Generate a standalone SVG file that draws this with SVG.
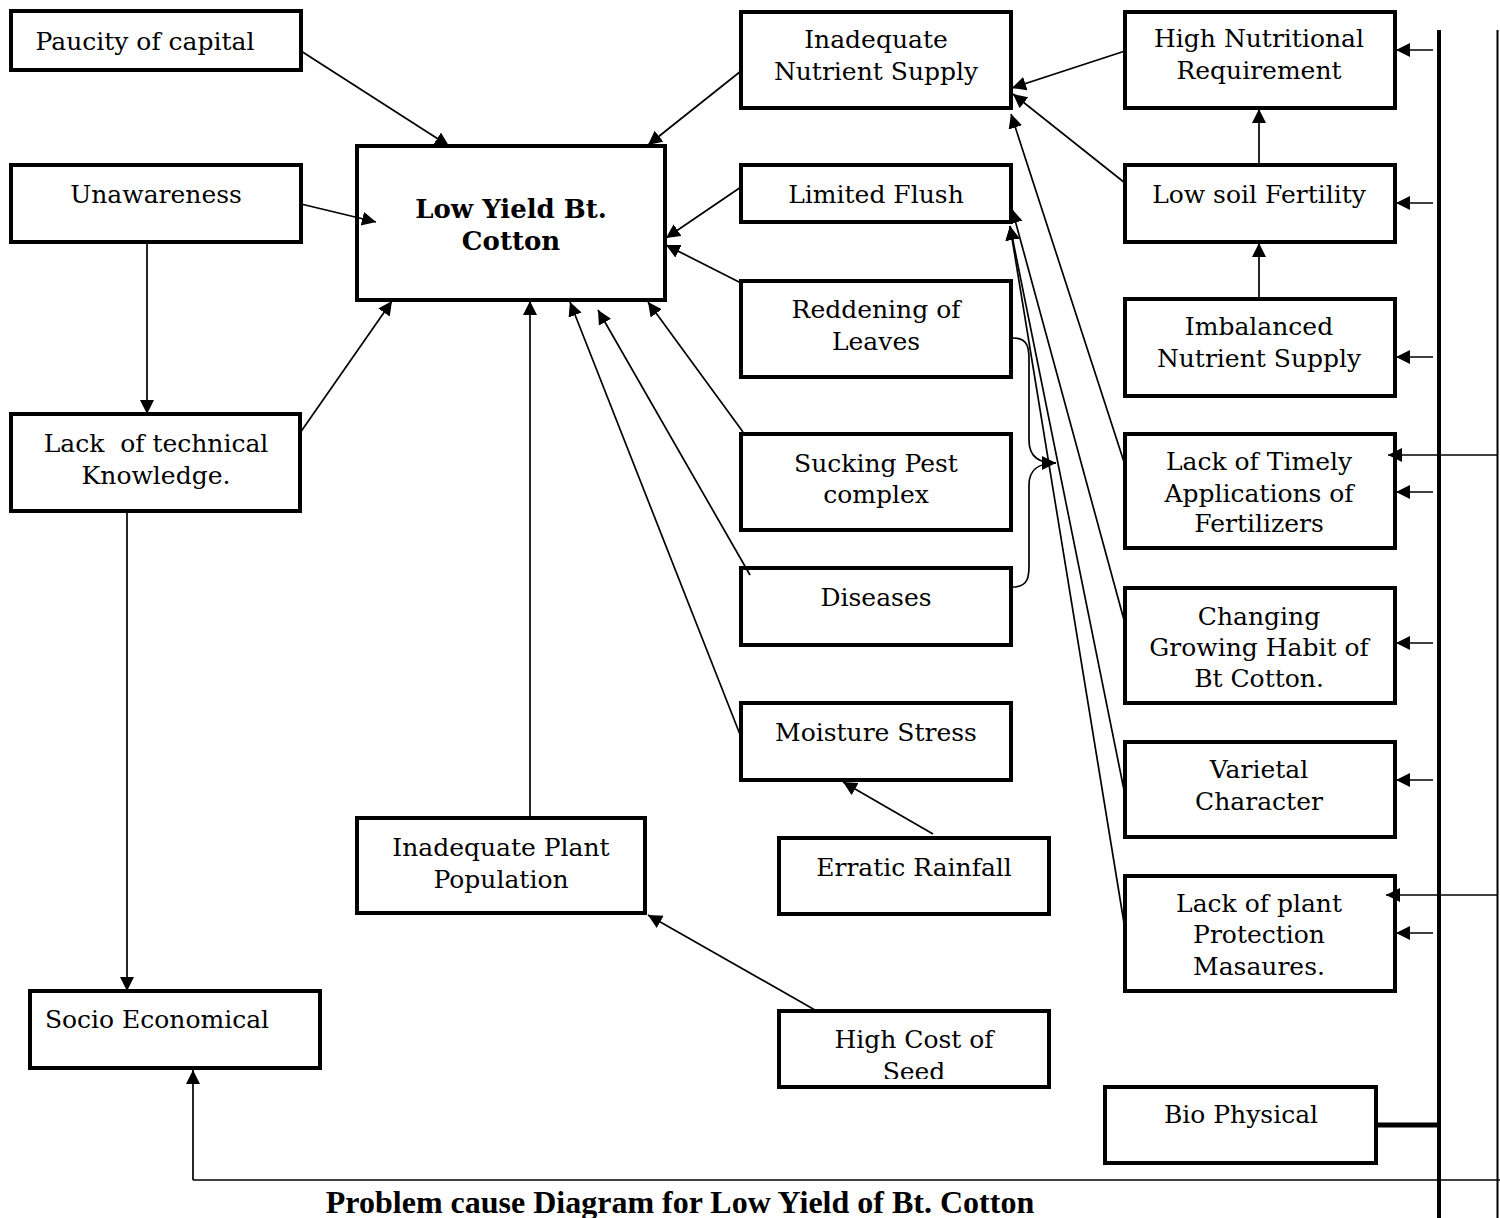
<svg xmlns="http://www.w3.org/2000/svg" width="1500" height="1218" viewBox="0 0 1500 1218">
<defs>
<style>
.box{fill:#fff;stroke:#000;stroke-width:4}
.t{font-family:"DejaVu Serif","Liberation Serif",serif;font-size:25px;fill:#000;text-anchor:middle;white-space:pre}
.tb{font-family:"DejaVu Serif","Liberation Serif",serif;font-size:26px;font-weight:bold;fill:#000;text-anchor:middle}
.title{font-family:"Liberation Serif","Times New Roman",serif;font-size:32px;font-weight:bold;fill:#000;text-anchor:middle}
.c{fill:none;stroke:#000;stroke-width:1.7}
.ca{fill:none;stroke:#000;stroke-width:1.7;marker-end:url(#ah)}
</style>
<marker id="ah" markerUnits="userSpaceOnUse" markerWidth="16" markerHeight="16" refX="14" refY="7" orient="auto">
<path d="M0,0 L14,7 L0,14 z" fill="#000"/>
</marker>
<clipPath id="clipSeed"><rect x="779" y="1011" width="270" height="68"/></clipPath>
</defs>
<rect width="1500" height="1218" fill="#fff"/>

<g id="n-paucity"><rect class="box" x="11" y="11" width="290" height="59"/><text class="t" x="145" y="50">Paucity of capital</text></g>
<g id="n-unawareness"><rect class="box" x="11" y="165" width="290" height="77"/><text class="t" x="156" y="203">Unawareness</text></g>
<g id="n-main"><rect class="box" x="357" y="146" width="308" height="154"/><text class="tb" x="511" y="218">Low Yield Bt.</text><text class="tb" x="511" y="250">Cotton</text></g>
<g id="n-lacktech"><rect class="box" x="11" y="414" width="289" height="97"/><text class="t" x="156" y="452">Lack  of technical</text><text class="t" x="156" y="484">Knowledge.</text></g>
<g id="n-socio"><rect class="box" x="30" y="991" width="290" height="77"/><text class="t" x="157" y="1028">Socio Economical</text></g>
<g id="n-plantpop"><rect class="box" x="357" y="818" width="288" height="95"/><text class="t" x="501" y="856">Inadequate Plant</text><text class="t" x="501" y="888">Population</text></g>
<g id="n-inadnut"><rect class="box" x="741" y="12" width="270" height="96"/><text class="t" x="876" y="48">Inadequate</text><text class="t" x="876" y="80">Nutrient Supply</text></g>
<g id="n-flush"><rect class="box" x="741" y="165" width="270" height="57"/><text class="t" x="876" y="203">Limited Flush</text></g>
<g id="n-redden"><rect class="box" x="741" y="281" width="270" height="96"/><text class="t" x="876" y="318">Reddening of</text><text class="t" x="876" y="350">Leaves</text></g>
<g id="n-sucking"><rect class="box" x="741" y="434" width="270" height="96"/><text class="t" x="876" y="472">Sucking Pest</text><text class="t" x="876" y="503">complex</text></g>
<g id="n-diseases"><rect class="box" x="741" y="568" width="270" height="77"/><text class="t" x="876" y="606">Diseases</text></g>
<g id="n-moisture"><rect class="box" x="741" y="703" width="270" height="77"/><text class="t" x="876" y="741">Moisture Stress</text></g>
<g id="n-erratic"><rect class="box" x="779" y="838" width="270" height="76"/><text class="t" x="914" y="876">Erratic Rainfall</text></g>
<g id="n-seed"><rect class="box" x="779" y="1011" width="270" height="76"/><text class="t" x="914" y="1048">High Cost of</text><text class="t" x="914" y="1080" clip-path="url(#clipSeed)">Seed</text></g>
<g id="n-highnut"><rect class="box" x="1125" y="12" width="270" height="96"/><text class="t" x="1259" y="47">High Nutritional</text><text class="t" x="1259" y="79">Requirement</text></g>
<g id="n-lowsoil"><rect class="box" x="1125" y="165" width="270" height="77"/><text class="t" x="1259" y="203">Low soil Fertility</text></g>
<g id="n-imbal"><rect class="box" x="1125" y="299" width="270" height="97"/><text class="t" x="1259" y="335">Imbalanced</text><text class="t" x="1259" y="367">Nutrient Supply</text></g>
<g id="n-timely"><rect class="box" x="1125" y="434" width="270" height="114"/><text class="t" x="1259" y="470">Lack of Timely</text><text class="t" x="1259" y="502">Applications of</text><text class="t" x="1259" y="532">Fertilizers</text></g>
<g id="n-changing"><rect class="box" x="1125" y="588" width="270" height="115"/><text class="t" x="1259" y="625">Changing</text><text class="t" x="1259" y="656">Growing Habit of</text><text class="t" x="1259" y="687">Bt Cotton.</text></g>
<g id="n-varietal"><rect class="box" x="1125" y="742" width="270" height="95"/><text class="t" x="1259" y="778">Varietal</text><text class="t" x="1259" y="810">Character</text></g>
<g id="n-plantprot"><rect class="box" x="1125" y="876" width="270" height="115"/><text class="t" x="1259" y="912">Lack of plant</text><text class="t" x="1259" y="943">Protection</text><text class="t" x="1259" y="975">Masaures.</text></g>
<g id="n-bio"><rect class="box" x="1105" y="1087" width="271" height="76"/><text class="t" x="1241" y="1123">Bio Physical</text></g>

<g id="connectors">
<line class="ca" x1="301" y1="51" x2="449" y2="146"/>
<line class="ca" x1="301" y1="204" x2="376" y2="222"/>
<line class="ca" x1="147" y1="242" x2="147" y2="414"/>
<line class="ca" x1="300" y1="433" x2="392" y2="301"/>
<line class="ca" x1="530" y1="818" x2="530" y2="301"/>
<line class="ca" x1="741" y1="737" x2="570" y2="302"/>
<line class="ca" x1="750" y1="575" x2="598" y2="310"/>
<line class="ca" x1="743" y1="432" x2="648" y2="302"/>
<line class="ca" x1="741" y1="283" x2="666" y2="245"/>
<line class="ca" x1="741" y1="187" x2="666" y2="238"/>
<line class="ca" x1="741" y1="71" x2="648" y2="145"/>
<line class="ca" x1="1125" y1="51" x2="1012" y2="88"/>
<line class="ca" x1="1125" y1="183" x2="1013" y2="94"/>
<line class="ca" x1="1125" y1="465" x2="1011" y2="114"/>
<line class="ca" x1="1124" y1="620" x2="1012" y2="209"/>
<line class="ca" x1="1124" y1="790" x2="1010" y2="226"/>
<line class="ca" x1="1124" y1="923" x2="1010" y2="226"/>
<path class="ca" d="M1013,338 C1029,338 1029,350 1029,360 L1029,440 C1029,458 1040,463 1056,463"/>
<path class="c" d="M1013,587 C1029,587 1029,575 1029,565 L1029,485 C1029,468 1040,463 1056,463"/>
<line class="ca" x1="1259" y1="165" x2="1259" y2="109"/>
<line class="ca" x1="1259" y1="299" x2="1259" y2="243"/>
<line class="ca" x1="933" y1="834" x2="843" y2="782"/>
<line class="ca" x1="815" y1="1010" x2="648" y2="915"/>
<line class="ca" x1="127" y1="513" x2="127" y2="991"/>
<line class="ca" x1="193" y1="1180" x2="193" y2="1070"/>
<line class="c" x1="193" y1="1180" x2="1500" y2="1180"/>
<line x1="1439" y1="30" x2="1439" y2="1218" stroke="#000" stroke-width="4"/>
<line x1="1497.5" y1="30" x2="1497.5" y2="1218" stroke="#000" stroke-width="2"/>
<line x1="1378" y1="1125" x2="1437" y2="1125" stroke="#000" stroke-width="5"/>
<line class="ca" x1="1433" y1="50" x2="1396" y2="50"/>
<line class="ca" x1="1433" y1="203" x2="1396" y2="203"/>
<line class="ca" x1="1433" y1="357" x2="1396" y2="357"/>
<line class="ca" x1="1433" y1="492" x2="1396" y2="492"/>
<line class="ca" x1="1433" y1="643" x2="1396" y2="643"/>
<line class="ca" x1="1433" y1="780" x2="1396" y2="780"/>
<line class="ca" x1="1433" y1="933" x2="1396" y2="933"/>
<line class="ca" x1="1498" y1="455" x2="1388" y2="455"/>
<line class="ca" x1="1498" y1="895" x2="1386" y2="895"/>
</g>

<text class="title" x="680" y="1213">Problem cause Diagram for Low Yield of Bt. Cotton</text>
</svg>
